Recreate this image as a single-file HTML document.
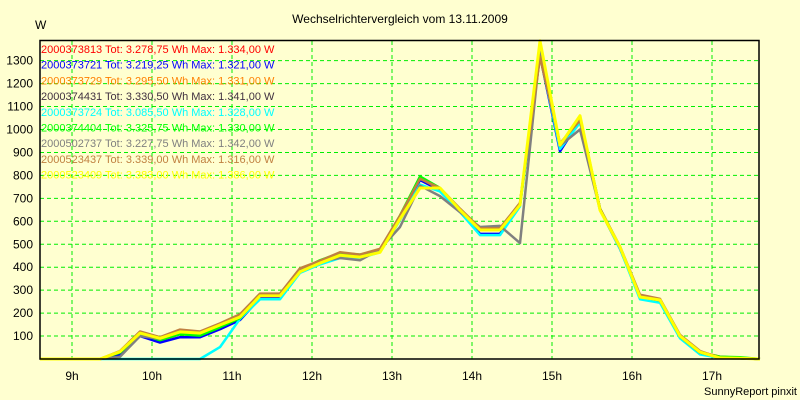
<!DOCTYPE html>
<html><head><meta charset="utf-8">
<style>
html,body{margin:0;padding:0;background:#ffffd0;}
svg{display:block;font-family:"Liberation Sans",sans-serif;}
</style></head>
<body>
<svg id="chart" width="800" height="400" viewBox="0 0 800 400">
<rect x="0" y="0" width="800" height="400" fill="#ffffd0"/>
<text x="400" y="23" text-anchor="middle" font-size="12" fill="#000">Wechselrichtervergleich vom 13.11.2009</text>
<text x="35" y="29" font-size="12" fill="#000">W</text>
<text x="797" y="395" text-anchor="end" font-size="11" fill="#000">SunnyReport pinxit</text>
<g id="grid"></g>
<g id="series"></g>
<g id="legend"></g>
<rect x="40" y="40.5" width="719" height="318.5" fill="none" stroke="#000" stroke-width="1.5"/>
</svg>
<script>
const yTicks=[100,200,300,400,500,600,700,800,900,1000,1100,1200,1300];
const xTicks=[9,10,11,12,13,14,15,16,17];
const xTickLabels=["9h","10h","11h","12h","13h","14h","15h","16h","17h"];
const startHour=8.6, stepHour=0.25;
const serialNumbers=["2000373813","2000373721","2000373729","2000374431","2000373724","2000374404","2000502737","2000523437","2000523409"];
const totals=["3.278,75","3.219,25","3.295,50","3.330,50","3.085,50","3.325,75","3.227,75","3.339,00","3.383,00"];
const maxima=["1.334,00","1.321,00","1.331,00","1.341,00","1.328,00","1.330,00","1.342,00","1.316,00","1.386,00"];
const colors=["#ff0000","#0000ff","#ff8000","#403040","#00ffff","#00ff00","#808080","#c08040","#ffff00"];
const sRed=[0,0,0,0,25,108,82,108,105,140,178,275,275,385,425,455,450,470,615,785,740,650,565,565,675,1334,930,1045,655,485,275,255,100,30,10,5,0];
const sBlue=[0,0,0,0,20,100,72,95,95,130,170,265,265,380,420,450,452,470,612,780,735,650,545,545,670,1321,905,1040,650,480,270,250,95,25,5,3,0];
const sOrange=[0,0,0,0,30,112,88,115,112,145,182,278,278,388,425,457,450,475,618,788,740,650,565,565,675,1331,935,1048,655,488,275,258,100,30,5,3,0];
const sDark=[0,0,0,0,28,110,85,112,108,142,180,276,276,385,428,458,448,472,620,792,742,652,565,565,678,1341,935,1050,655,486,272,255,98,28,5,3,0];
const sCyan=[0,0,0,0,0,0,0,0,0,52,175,260,260,375,412,440,440,465,605,760,730,640,540,540,665,1328,915,1030,650,480,260,245,90,20,5,3,0];
const sGreen=[0,0,0,0,28,108,82,108,102,138,178,276,276,388,430,462,455,475,625,795,745,652,565,565,672,1330,935,1052,655,488,272,255,98,28,10,8,0];
const sGray=[0,0,0,0,10,100,88,118,116,148,186,282,282,392,425,440,430,478,575,755,710,640,575,580,505,1342,930,1000,650,485,275,255,98,28,5,3,0];
const sBrown=[0,0,0,0,35,120,95,128,120,155,195,285,285,395,428,465,455,480,625,785,745,655,570,570,680,1316,940,1040,655,490,280,262,105,35,5,3,0];
const sYellow=[0,0,0,0,32,113,90,118,113,148,183,275,275,380,418,452,444,465,610,745,745,649,562,562,671,1386,932,1060,649,488,270,257,100,30,5,3,0];
const allSeries=[sRed,sBlue,sOrange,sDark,sCyan,sGreen,sGray,sBrown,sYellow];

const NS="http://www.w3.org/2000/svg";
function xScale(h){return 72+(h-9)*80;}
function yScale(v){return 359-v*0.2295;}
const grid=document.getElementById('grid');
yTicks.forEach(function(t){
  const l=document.createElementNS(NS,'line');
  l.setAttribute('x1',40);l.setAttribute('x2',759);
  l.setAttribute('y1',yScale(t));l.setAttribute('y2',yScale(t));
  l.setAttribute('stroke','#00ee00');l.setAttribute('stroke-dasharray','4,3');
  
  
  grid.appendChild(l);
  const tx=document.createElementNS(NS,'text');
  tx.setAttribute('x',33);tx.setAttribute('y',yScale(t)+4);
  tx.setAttribute('text-anchor','end');tx.setAttribute('font-size','12');
  tx.textContent=t;
  
  
  grid.appendChild(tx);
});
xTicks.forEach(function(t,i){
  const l=document.createElementNS(NS,'line');
  l.setAttribute('x1',xScale(t));l.setAttribute('x2',xScale(t));
  l.setAttribute('y1',41);l.setAttribute('y2',359);
  l.setAttribute('stroke','#00ee00');l.setAttribute('stroke-dasharray','4,3');
  
  
  grid.appendChild(l);
  const tx=document.createElementNS(NS,'text');
  tx.setAttribute('x',xScale(t));tx.setAttribute('y',380);
  tx.setAttribute('text-anchor','middle');tx.setAttribute('font-size','12');
  tx.textContent=xTickLabels[i];
  
  
  grid.appendChild(tx);
});
const sg=document.getElementById('series');
allSeries.forEach(function(s,i){
  const pts=s.map(function(v,k){return xScale(startHour+k*stepHour).toFixed(1)+','+yScale(v).toFixed(1);}).join(' ');
  const p=document.createElementNS(NS,'polyline');
  p.setAttribute('points',pts);p.setAttribute('fill','none');
  p.setAttribute('stroke',colors[i]);p.setAttribute('stroke-width',i===8?3:2.5);
  p.setAttribute('stroke-linejoin','round');
  
  
  sg.appendChild(p);
});
const lg=document.getElementById('legend');
serialNumbers.forEach(function(sn,i){
  const tx=document.createElementNS(NS,'text');
  tx.setAttribute('x',41);tx.setAttribute('y',53+i*15.7);
  tx.setAttribute('font-size','11');tx.setAttribute('fill',colors[i]);
  tx.textContent=sn+' Tot: '+totals[i]+' Wh Max: '+maxima[i]+' W';
  
  
  lg.appendChild(tx);
});
</script>
</body></html>
